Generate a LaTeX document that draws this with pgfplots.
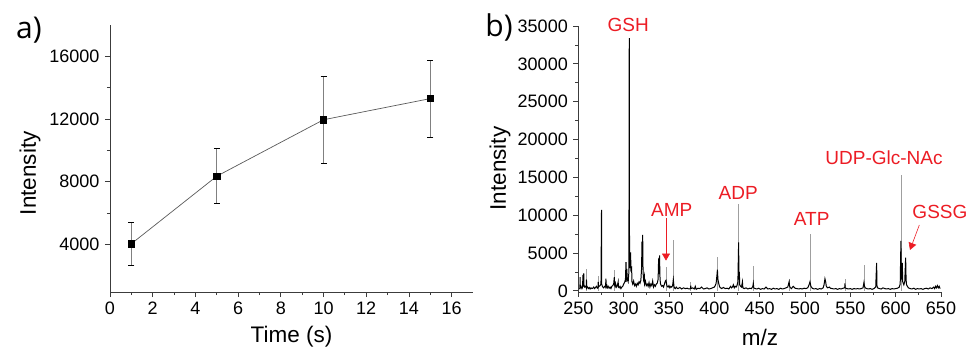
\documentclass[border=0pt]{standalone}
\usepackage{fontspec}
\setmainfont{Liberation Sans}
\newfontfamily\panelfont{Open Sans}
\usepackage{pgfplots}
\pgfplotsset{compat=1.18}
\usetikzlibrary{arrows.meta}
\definecolor{lblred}{RGB}{236,28,36}
\definecolor{axgray}{RGB}{60,60,60}

\pgfplotsset{
  myaxis/.style={
    scale only axis,
    axis x line=bottom, axis y line=left,
    axis line style={-, axgray, line width=0.8bp},
    tick align=outside,
    major tick length=5bp, minor tick length=3bp,
    every tick/.style={axgray, line width=0.8bp},
    minor tick num=1,
    scaled ticks=false,
    tick label style={font=\fontsize{18bp}{20bp}\selectfont},
    xticklabel style={yshift=-1.5bp},
    yticklabel style={xshift=-2bp},
    label style={font=\fontsize{22.5bp}{25bp}\selectfont},
    /pgf/number format/assume math mode=true,
    /pgf/number format/1000 sep={},
    clip=false,
  }
}

\begin{document}
\begin{tikzpicture}
\useasboundingbox (0,0) rectangle (968bp,349bp);

\begin{axis}[myaxis,
  at={(110bp,57bp)}, anchor=south west,
  width=363bp, height=267bp,
  xmin=0, xmax=17, ymin=950, ymax=18000,
  xtick={0,2,...,16}, ytick={4000,8000,12000,16000},
  xlabel={Time (s)}, ylabel={Intensity},
  x label style={at={(axis description cs:0.5,-0.1685)}, anchor=center},
  y label style={at={(axis description cs:-0.2204,0.445)}, anchor=center, rotate=0},
]
\addplot[gray!70!black, line width=0.7bp, mark=square*, mark size=3.2bp,
  mark options={black, solid},
  error bars/.cd, y dir=both, y explicit,
  error bar style={gray, line width=0.8bp},
  error mark options={rotate=90, mark size=3bp, black, line width=0.7bp}]
coordinates {
 (1,4030)  +- (0,1365)
 (5,8345)  +- (0,1765)
 (10,11950) +- (0,2780)
 (15,13300) +- (0,2450)
};
\end{axis}

\begin{axis}[myaxis,
  at={(578.3bp,57bp)}, anchor=south west,
  width=362.7bp, height=266bp,
  xmin=250, xmax=650, ymin=-150, ymax=35000,
  xtick={250,300,...,650}, ytick={0,5000,...,35000},
  xlabel={m/z}, ylabel={Intensity},
  x label style={at={(axis description cs:0.501,-0.17)}, anchor=center},
  y label style={at={(axis description cs:-0.216,0.464)}, anchor=center, rotate=0},
]
\addplot[ycomb, gray!75, line width=0.6bp, no marks] coordinates {
 (259,2900) (271.8,2000) (289.7,2800) (346.7,3200) (354.8,6700) (374,1200)
 (403.3,4500) (426.8,11500) (443,3300) (482.7,1600) (505.5,7500)
 (544,1600) (565,3400) (605.8,15300)
};
\addplot[black, line width=1bp, no marks] table {
251.0 300
251.8 350
252.0 1800
252.2 400
253.0 600
254.0 300
254.8 500
255.0 2100
255.2 600
255.8 700
256.0 2300
256.2 800
257.0 500
258.0 600
258.8 400
259.0 1500
259.2 700
260.0 500
261.0 300
262.0 450
263.0 250
264.0 400
265.0 300
266.0 350
267.0 500
268.0 300
269.0 450
270.0 600
271.0 350
271.8 400
272.0 1200
272.2 500
273.0 600
274.0 700
275.0 900
275.6 10700
275.8 900
276.5 600
277.0 500
278.0 400
279.0 600
280.0 500
280.5 1600
280.7 500
281.5 700
282.0 400
283.0 600
284.0 350
285.0 500
286.0 300
287.0 600
288.0 700
289.0 900
289.7 1800
289.9 800
290.5 600
291.0 1000
292.0 500
293.0 700
294.0 1200
294.2 500
295.0 400
296.0 600
297.0 300
298.0 500
299.0 600
300.0 900
301.0 1100
302.0 1500
302.6 3800
302.8 1200
303.5 2900
304.0 1500
305.0 1200
305.8 2500
306.2 33400
306.5 3000
307.2 3500
307.7 5100
308.0 2800
308.8 3000
309.2 1200
310.0 900
311.0 1300
312.0 700
313.0 900
314.0 600
315.0 1000
316.0 800
317.0 1200
318.0 1000
319.0 1400
319.8 3000
320.2 6500
320.6 3500
321.0 7400
321.4 2500
322.0 1500
322.8 2000
323.2 900
324.0 1300
325.0 700
326.0 900
327.0 600
328.0 1100
329.0 500
330.0 900
331.0 700
332.0 1300
333.0 500
334.0 800
335.0 600
336.0 900
337.0 1000
338.0 1500
338.6 4300
339.0 2200
339.6 4700
340.0 2000
340.5 1000
341.0 800
342.0 600
343.0 700
344.0 500
345.0 900
346.0 1300
346.7 1400
347.5 800
348.0 600
349.0 500
350.0 700
351.0 400
352.0 600
353.0 500
354.0 700
354.8 1500
355.5 600
356.0 400
357.0 300
358.0 500
359.0 350
360.0 300
362.0 450
364.0 250
366.0 400
368.0 300
370.0 350
372.0 250
373.8 300
374.0 700
374.2 300
376.0 400
378.0 250
379.0 600
380.0 200
382.0 350
384.0 300
386.0 500
388.0 250
390.0 300
392.0 400
394.0 250
396.0 300
398.0 400
400.0 500
401.0 700
402.0 1000
403.0 2200
403.4 2800
404.0 1500
405.0 900
406.0 500
407.0 400
408.0 300
410.0 450
412.0 300
414.0 350
416.0 250
418.0 600
419.0 400
420.0 500
421.0 800
422.0 400
423.0 600
424.0 500
425.0 700
426.0 1200
426.8 6400
427.2 1500
427.6 2500
428.0 800
429.0 600
430.0 500
431.0 1200
431.5 400
433.0 300
435.0 400
437.0 250
439.0 350
441.0 300
442.5 600
443.0 1000
443.5 400
445.0 300
447.0 250
449.0 350
451.0 200
453.0 300
455.0 250
457.0 500
459.0 250
461.0 300
463.0 200
465.0 350
467.0 250
469.0 300
471.0 200
473.0 350
475.0 250
477.0 300
479.0 400
481.0 500
482.5 1200
483.0 600
484.0 400
485.0 300
487.0 600
489.0 350
491.0 300
493.0 250
495.0 300
497.0 250
499.0 350
501.0 300
503.0 400
504.5 800
505.5 1200
506.5 600
508.0 350
510.0 250
512.0 300
514.0 200
516.0 300
518.0 250
520.0 400
521.0 800
522.0 1600
522.8 1200
523.5 600
525.0 400
527.0 500
528.0 350
530.0 300
532.0 250
534.0 300
536.0 200
538.0 300
540.0 250
542.0 350
543.8 400
544.0 1000
544.3 400
546.0 300
548.0 250
550.0 300
552.0 200
554.0 300
556.0 250
558.0 300
560.0 250
562.0 300
564.0 400
565.0 1100
565.6 600
566.5 400
568.0 300
570.0 250
572.0 300
574.0 200
576.0 300
578.0 500
579.0 3700
579.4 700
580.0 400
582.0 300
584.0 250
586.0 400
588.0 300
590.0 250
592.0 300
594.0 200
596.0 300
598.0 250
600.0 300
602.0 350
604.0 500
605.0 900
605.8 6600
606.2 1500
607.3 3700
607.8 1200
609.0 800
610.0 1200
611.0 4400
611.5 1500
612.0 800
613.0 600
614.0 400
616.0 300
618.0 250
620.0 350
622.0 200
624.0 300
626.0 250
628.0 300
630.0 200
632.0 300
634.0 350
636.0 250
638.0 400
640.0 300
642.0 500
643.0 300
644.0 600
645.0 400
646.0 700
647.0 400
648.0 600
649.0 300
};
\begin{scope}[every node/.style={font=\fontsize{19bp}{21bp}\selectfont, text=lblred}]
\node at (axis cs:305,35100) {GSH};
\node at (axis cs:353,10686) {AMP};
\node at (axis cs:426.4,12968) {ADP};
\node at (axis cs:507.4,9459) {ATP};
\node at (axis cs:587.1,17638) {UDP-Glc-NAc};
\node at (axis cs:648.8,10383) {GSSG};
\end{scope}
\draw[lblred, line width=0.6bp, -{Triangle[width=8bp,length=7bp]}] (axis cs:346.7,9600) -- (axis cs:346.7,4000);
\draw[lblred, line width=0.6bp, -{Triangle[width=8bp,length=7bp]}] (axis cs:626.1,8707) -- (axis cs:615.8,5409);
\end{axis}

\node[font=\panelfont\fontsize{30bp}{32bp}\selectfont, inner sep=0pt] at (29bp,319bp) {a)};
\node[font=\panelfont\fontsize{30bp}{32bp}\selectfont, inner sep=0pt] at (499bp,322bp) {b)};
\end{tikzpicture}
\end{document}
